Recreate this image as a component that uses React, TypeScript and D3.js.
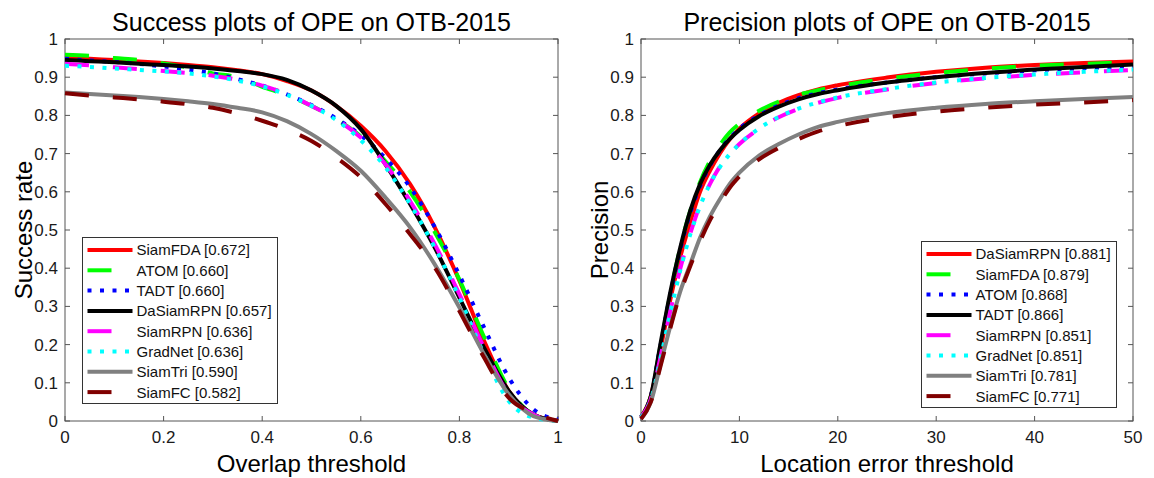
import React, { useRef, useEffect } from 'react';
import * as d3 from 'd3';

// ---- data ----
const overlapThresholds = [0, 0.05, 0.1, 0.15, 0.2, 0.25, 0.3, 0.35, 0.4, 0.45, 0.5, 0.55, 0.6, 0.65, 0.7, 0.75, 0.8, 0.85, 0.9, 0.95, 1];
const successNames = ['SiamFDA', 'ATOM', 'TADT', 'DaSiamRPN', 'SiamRPN', 'GradNet', 'SiamTri', 'SiamFC'];
const successScores = ['0.672', '0.660', '0.660', '0.657', '0.636', '0.636', '0.590', '0.582'];
const successSiamFDA = [0.952, 0.948, 0.945, 0.941, 0.937, 0.932, 0.926, 0.918, 0.908, 0.89, 0.865, 0.825, 0.773, 0.707, 0.62, 0.507, 0.367, 0.21, 0.079, 0.017, 0];
const successATOM = [0.959, 0.956, 0.95, 0.945, 0.936, 0.925, 0.91, 0.9, 0.875, 0.853, 0.825, 0.79, 0.745, 0.68, 0.6, 0.495, 0.37, 0.22, 0.085, 0.017, 0];
const successTADT = [0.948, 0.944, 0.94, 0.935, 0.928, 0.92, 0.91, 0.895, 0.878, 0.855, 0.827, 0.792, 0.748, 0.688, 0.612, 0.508, 0.382, 0.245, 0.114, 0.031, 0.004];
const successDaSiamRPN = [0.945, 0.942, 0.939, 0.935, 0.932, 0.928, 0.923, 0.916, 0.908, 0.893, 0.865, 0.825, 0.764, 0.672, 0.568, 0.454, 0.323, 0.192, 0.079, 0.017, 0];
const successSiamRPN = [0.935, 0.931, 0.926, 0.921, 0.916, 0.911, 0.904, 0.893, 0.878, 0.856, 0.825, 0.79, 0.742, 0.672, 0.576, 0.463, 0.332, 0.192, 0.07, 0.017, 0];
const successGradNet = [0.93, 0.927, 0.923, 0.919, 0.915, 0.91, 0.902, 0.891, 0.876, 0.854, 0.825, 0.788, 0.735, 0.664, 0.568, 0.454, 0.323, 0.175, 0.052, 0.009, 0];
const successSiamTri = [0.86, 0.856, 0.852, 0.848, 0.843, 0.837, 0.83, 0.82, 0.808, 0.785, 0.751, 0.707, 0.655, 0.585, 0.507, 0.41, 0.297, 0.175, 0.07, 0.013, 0];
const successSiamFC = [0.858, 0.852, 0.847, 0.842, 0.836, 0.829, 0.82, 0.805, 0.786, 0.763, 0.733, 0.69, 0.638, 0.568, 0.489, 0.402, 0.288, 0.166, 0.061, 0.022, 0];

const errorThresholds = [0, 1, 2, 3, 4, 5, 6, 7, 8, 9, 10, 12, 14, 16, 18, 20, 25, 30, 35, 40, 45, 50];
const precisionNames = ['DaSiamRPN', 'SiamFDA', 'ATOM', 'TADT', 'SiamRPN', 'GradNet', 'SiamTri', 'SiamFC'];
const precisionScores = ['0.881', '0.879', '0.868', '0.866', '0.851', '0.851', '0.781', '0.771'];
const precisionDaSiamRPN = [0.01, 0.065, 0.19, 0.32, 0.43, 0.52, 0.6, 0.655, 0.7, 0.737, 0.765, 0.805, 0.833, 0.853, 0.868, 0.879, 0.899, 0.914, 0.925, 0.932, 0.937, 0.941];
const precisionSiamFDA = [0.01, 0.065, 0.2, 0.335, 0.455, 0.55, 0.625, 0.68, 0.722, 0.755, 0.778, 0.812, 0.836, 0.854, 0.866, 0.876, 0.896, 0.911, 0.922, 0.93, 0.935, 0.94];
const precisionATOM = [0.01, 0.065, 0.2, 0.335, 0.45, 0.545, 0.615, 0.668, 0.708, 0.74, 0.765, 0.8, 0.826, 0.845, 0.858, 0.868, 0.886, 0.9, 0.91, 0.918, 0.924, 0.929];
const precisionTADT = [0.01, 0.065, 0.205, 0.34, 0.455, 0.55, 0.62, 0.67, 0.708, 0.738, 0.762, 0.798, 0.823, 0.842, 0.856, 0.866, 0.886, 0.9, 0.911, 0.92, 0.927, 0.933];
const precisionSiamRPN = [0.01, 0.058, 0.17, 0.29, 0.4, 0.49, 0.565, 0.62, 0.665, 0.698, 0.725, 0.765, 0.795, 0.817, 0.833, 0.846, 0.868, 0.885, 0.897, 0.906, 0.913, 0.919];
const precisionGradNet = [0.01, 0.055, 0.165, 0.285, 0.395, 0.488, 0.562, 0.62, 0.664, 0.698, 0.725, 0.766, 0.796, 0.818, 0.834, 0.847, 0.869, 0.886, 0.898, 0.907, 0.914, 0.92];
const precisionSiamTri = [0.005, 0.05, 0.15, 0.25, 0.34, 0.41, 0.48, 0.535, 0.58, 0.62, 0.65, 0.695, 0.725, 0.75, 0.77, 0.783, 0.806, 0.82, 0.83, 0.837, 0.843, 0.848];
const precisionSiamFC = [0.005, 0.05, 0.145, 0.245, 0.335, 0.405, 0.47, 0.525, 0.57, 0.61, 0.64, 0.685, 0.715, 0.738, 0.758, 0.772, 0.795, 0.81, 0.82, 0.828, 0.834, 0.84];

const overlapTicks = [0, 0.2, 0.4, 0.6, 0.8, 1];
const errorTicks = [0, 10, 20, 30, 40, 50];
const rateTicks = [0, 0.1, 0.2, 0.3, 0.4, 0.5, 0.6, 0.7, 0.8, 0.9, 1];

// rank styles (same order in both plots)
const colors = ['#ff0000', '#00ff00', '#0000ff', '#000000', '#ff00ff', '#00ffff', '#808080', '#800000'];
const dashes = [null, '24 24', '4 8.5', null, '24 24', '4 8.5', null, '24 24'];

const FONT = '"Liberation Sans", Arial, Helvetica, sans-serif';

function Plot({ left, right, xDomain, xTicks, thresholds, series, names, scores, title, xLabel, yLabel, legend }) {
  const gRef = useRef(null);

  useEffect(() => {
    const g = d3.select(gRef.current);
    g.selectAll('*').remove();

    const top = 39;
    const bottom = 421;

    const x = d3.scaleLinear().domain(xDomain).range([left, right]);
    const y = d3.scaleLinear().domain([0, 1]).range([bottom, top]);

    // frame
    g.append('rect')
      .attr('x', left).attr('y', top)
      .attr('width', right - left).attr('height', bottom - top)
      .attr('fill', 'white').attr('stroke', '#555').attr('stroke-width', 1);

    // ticks inside on all four sides
    xTicks.forEach(t => {
      g.append('line').attr('x1', x(t)).attr('x2', x(t)).attr('y1', bottom).attr('y2', bottom - 5).attr('stroke', '#555');
      g.append('line').attr('x1', x(t)).attr('x2', x(t)).attr('y1', top).attr('y2', top + 5).attr('stroke', '#555');
      g.append('text')
        .attr('x', x(t)).attr('y', bottom + 22)
        .attr('text-anchor', 'middle')
        .style('font-size', '17px').attr('fill', '#1a1a1a')
        .text(String(+t.toFixed(1)));
    });
    rateTicks.forEach(t => {
      g.append('line').attr('x1', left).attr('x2', left + 5).attr('y1', y(t)).attr('y2', y(t)).attr('stroke', '#555');
      g.append('line').attr('x1', right).attr('x2', right - 5).attr('y1', y(t)).attr('y2', y(t)).attr('stroke', '#555');
      g.append('text')
        .attr('x', left - 7).attr('y', y(t)).attr('dy', '0.35em')
        .attr('text-anchor', 'end')
        .style('font-size', '17px').attr('fill', '#1a1a1a')
        .text(String(+t.toFixed(1)));
    });

    // curves, first in legend drawn first
    const line = d3.line()
      .x((d, i) => x(thresholds[i]))
      .y(d => y(d))
      .curve(d3.curveMonotoneX);

    series.forEach((s, i) => {
      g.append('path')
        .attr('d', line(s))
        .attr('fill', 'none')
        .attr('stroke', colors[i])
        .attr('stroke-width', 4)
        .attr('stroke-dasharray', dashes[i])
        .attr('stroke-linejoin', 'round');
    });

    // legend
    const lg = g.append('g').attr('transform', `translate(${legend.x}, ${legend.y})`);
    lg.append('rect')
      .attr('width', legend.w).attr('height', legend.h)
      .attr('fill', 'white').attr('stroke', '#333').attr('stroke-width', 1);
    names.forEach((n, i) => {
      const ly = 12.5 + i * 20.3;
      lg.append('line')
        .attr('x1', 5).attr('x2', 50).attr('y1', ly).attr('y2', ly)
        .attr('stroke', colors[i]).attr('stroke-width', 4)
        .attr('stroke-dasharray', dashes[i]);
      lg.append('text')
        .attr('x', 54).attr('y', ly).attr('dy', '0.36em')
        .style('font-size', '15px').attr('fill', '#111')
        .text(`${n} [${scores[i]}]`);
    });

    // titles and labels
    const cx = (left + right) / 2;
    g.append('text')
      .attr('x', cx).attr('y', 31)
      .attr('text-anchor', 'middle')
      .style('font-size', '25px').attr('fill', '#000')
      .text(title);
    g.append('text')
      .attr('x', cx).attr('y', 472)
      .attr('text-anchor', 'middle')
      .style('font-size', '24px').attr('fill', '#000')
      .text(xLabel);
    g.append('text')
      .attr('transform', `translate(${left - 33}, ${(top + bottom) / 2}) rotate(-90)`)
      .attr('text-anchor', 'middle')
      .style('font-size', '24px').attr('fill', '#000')
      .text(yLabel);
  }, []);

  return <g ref={gRef} style={{ fontFamily: FONT }} />;
}

export default function App() {
  return (
    <svg width={1154} height={478} style={{ position: 'absolute', left: 0, top: 0, background: 'white', fontFamily: FONT }}>
      <rect width={1154} height={478} fill="white" />
      <Plot
        left={65} right={558}
        xDomain={[0, 1]} xTicks={overlapTicks}
        thresholds={overlapThresholds}
        series={[successSiamFDA, successATOM, successTADT, successDaSiamRPN, successSiamRPN, successGradNet, successSiamTri, successSiamFC]}
        names={successNames} scores={successScores}
        title="Success plots of OPE on OTB-2015"
        xLabel="Overlap threshold" yLabel="Success rate"
        legend={{ x: 82.5, y: 237.5, w: 195, h: 166 }}
      />
      <Plot
        left={641} right={1133}
        xDomain={[0, 50]} xTicks={errorTicks}
        thresholds={errorThresholds}
        series={[precisionDaSiamRPN, precisionSiamFDA, precisionATOM, precisionTADT, precisionSiamRPN, precisionGradNet, precisionSiamTri, precisionSiamFC]}
        names={precisionNames} scores={precisionScores}
        title="Precision plots of OPE on OTB-2015"
        xLabel="Location error threshold" yLabel="Precision"
        legend={{ x: 921.5, y: 241.5, w: 195, h: 166 }}
      />
    </svg>
  );
}
